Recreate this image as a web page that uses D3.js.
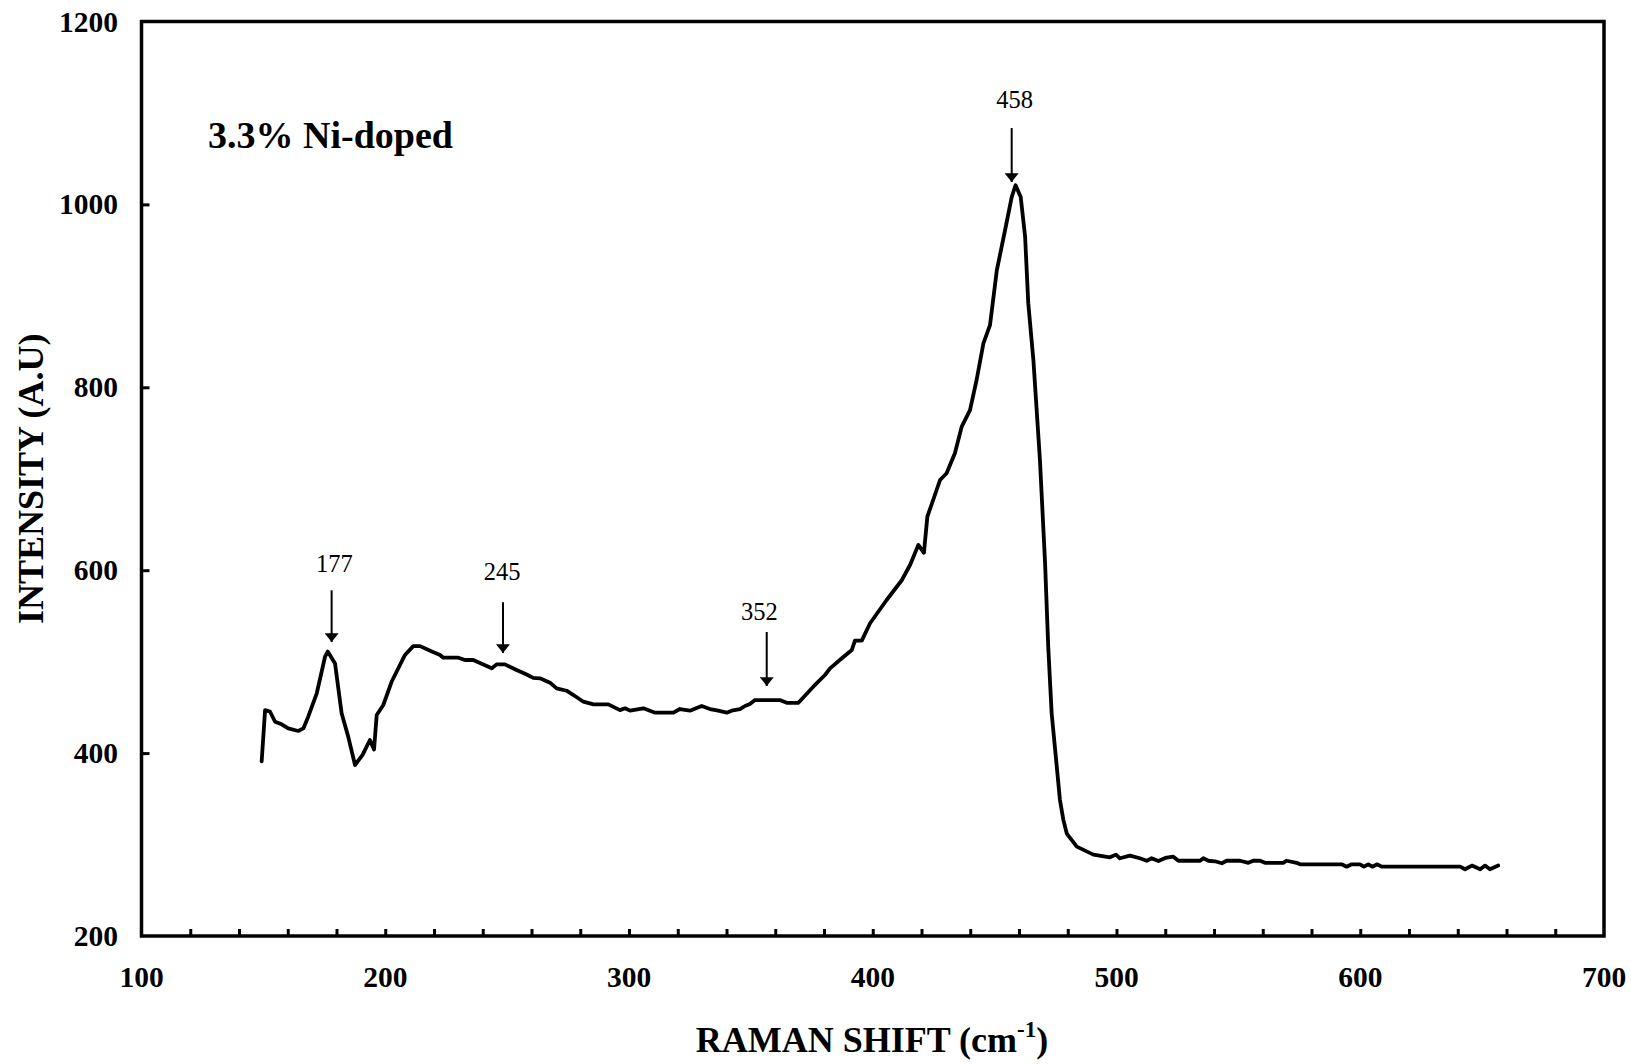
<!DOCTYPE html>
<html>
<head>
<meta charset="utf-8">
<script src="https://cdn.jsdelivr.net/npm/d3@7/dist/d3.min.js"></script>
<style>
  html, body { margin: 0; padding: 0; background: #fff; }
  svg { display: block; }
  text { font-family: "Liberation Serif", "Times New Roman", serif; fill: #000; }
</style>
</head>
<body>
<svg id="chart" width="1631" height="1064"></svg>
<script>
// ---- data ----
const ramanShift = [
  149.3,150.7,152.7,154.8,157.5,160.2,164.3,166.4,168.4,171.9,175.3,176.4,179.4,182.1,184.8,187.6,
  190.7,193.7,195.4,196.5,199.2,202.6,208.1,211.5,214.3,219.1,222.5,223.8,230,232.7,236.1,243.7,
  245.7,249.1,253.9,258,260.7,263.5,267.6,270.3,274.4,277.2,281.3,285.4,291.5,296.3,298.4,300.4,
  305.9,310.7,318.2,320.9,325,329.8,333.2,336.6,340.1,342.1,345.5,347.6,349.6,351.7,361.9,364.7,
  369.5,375.6,380.4,382.5,386.6,391.4,392.7,395.5,398.9,405.7,411.9,415.3,418.7,421,422.4,426.2,
  427.6,430.3,433.7,436.5,439.9,442.6,445.4,448.1,450.9,454.3,457,458.6,460.7,462.5,463.8,465.9,
  468.6,470.7,472,473.4,476.8,478.2,479.6,483.7,490.5,497.3,499.8,501.4,505.5,509.6,512.4,514.4,
  517.2,520,523.3,525.4,534.3,535.6,537.7,540.4,543.2,545.2,550.7,554.1,556.1,558.9,560.9,568.4,
  569.8,573.9,575.3,592.4,594.4,596.5,599.9,601.5,603.3,604.9,607,608.8,632.7,641,643,645.8,
  649.2,651.2,653.2,656.6
];
const intensity = [
  391,447,445.5,434.3,431.5,427,424.2,427,439.8,465.4,505.4,511,498,443.5,418,387,
  398,414.3,404,441.7,452.6,478,507.3,517,517,511,507.3,504.3,504.3,501.8,501.8,492.7,
  497,497,490.9,486,482.3,481.8,477,470.8,468.2,463.5,456.2,453.3,453.3,447,449,446.4,
  449,444.2,444.2,448.2,446.4,451.5,448.2,446.4,444.2,446.4,448,451.5,453.7,458,458,455,
  455,472.6,485.4,492.7,502,512.7,523,523,542,567.4,589,605.7,627.6,619,658.5,687.7,
  698.6,706,727.8,757,775,808,848,868,928,972,1008,1021,1008,965,892,830,
  720,607.5,516,443.5,348.7,327,312,297.7,289,286,289,285,287.8,285,282.3,285,
  282,285.3,286.7,282.3,282.3,285,282.3,281.7,279.5,282.3,282.3,280,282.3,282.3,280,280,
  282.3,280,278.4,278.4,275.8,278.4,278.4,275.8,278.4,275.8,278.4,275.8,275.8,275.8,273,277,
  273,277,273,277
];
const xTicks = [100, 200, 300, 400, 500, 600, 700];
const xMinorTicks = d3.range(120, 700, 20);
const yTicks = [200, 400, 600, 800, 1000, 1200];
const peakLabels = ["177", "245", "352", "458"];
const peakArrowX = [178, 248.3, 356.5, 457];
const peakArrowTop = [578, 565, 532.4, 1083.5];     // intensity at arrow tail
const peakArrowTip = [521.5, 509.5, 473.4, 1024.5]; // intensity at arrow head
const peakLabelX = [179.1, 247.9, 353.5, 458.2];
const peakLabelY = [598, 589.3, 545.5, 1105.4];     // intensity at label baseline
const sampleLabel = "3.3% Ni-doped";
const xTitle = "RAMAN SHIFT (cm";
const yTitle = "INTENSITY (A.U)";

// ---- layout ----
const svg = d3.select("#chart");
const L = 141.5, R = 1604, T = 21.5, B = 936;
const x = d3.scaleLinear().domain([100, 700]).range([L, R]);
const y = d3.scaleLinear().domain([200, 1200]).range([B, T]);

// curve
svg.append("path")
  .datum(ramanShift.map((v, i) => [v, intensity[i]]))
  .attr("fill", "none")
  .attr("stroke", "#000")
  .attr("stroke-width", 3.8)
  .attr("stroke-linejoin", "round")
  .attr("stroke-linecap", "round")
  .attr("d", d3.line().x(d => x(d[0])).y(d => y(d[1])));

// frame
svg.append("rect")
  .attr("x", L).attr("y", T).attr("width", R - L).attr("height", B - T)
  .attr("fill", "none").attr("stroke", "#000").attr("stroke-width", 3.5);

// x ticks (inward)
const xAxis = d3.axisBottom(x).tickValues(xMinorTicks).tickSize(-7).tickFormat("");
const gx = svg.append("g").attr("transform", `translate(0,${B})`).call(xAxis);
gx.select(".domain").remove();
gx.selectAll(".tick line").attr("stroke", "#000").attr("stroke-width", 3);

// y ticks (inward)
const yAxis = d3.axisLeft(y).tickValues(yTicks.slice(1, -1)).tickSize(-8).tickFormat("");
const gy = svg.append("g").attr("transform", `translate(${L},0)`).call(yAxis);
gy.select(".domain").remove();
gy.selectAll(".tick line").attr("stroke", "#000").attr("stroke-width", 3);

// tick labels
svg.append("g").selectAll("text").data(xTicks).join("text")
  .attr("x", d => x(d)).attr("y", 987)
  .attr("text-anchor", "middle").attr("font-weight", "bold").attr("font-size", 29.5)
  .text(d => d);
svg.append("g").selectAll("text").data(yTicks).join("text")
  .attr("x", 118).attr("y", d => y(d) + 10)
  .attr("text-anchor", "end").attr("font-weight", "bold").attr("font-size", 29.5)
  .text(d => d);

// axis titles
const xt = svg.append("text")
  .attr("x", 872).attr("y", 1052)
  .attr("text-anchor", "middle").attr("font-weight", "bold").attr("font-size", 36);
xt.append("tspan").text(xTitle);
xt.append("tspan").attr("dy", -15).attr("font-size", 23).text("-1");
xt.append("tspan").attr("dy", 15).text(")");

svg.append("text")
  .attr("transform", `translate(43,${(T + B) / 2}) rotate(-90)`)
  .attr("text-anchor", "middle").attr("font-weight", "bold").attr("font-size", 36)
  .text(yTitle);

// sample label
svg.append("text")
  .attr("x", 208).attr("y", 148)
  .attr("font-weight", "bold").attr("font-size", 38)
  .text(sampleLabel);

// peak annotations
const defs = svg.append("defs");
defs.append("marker")
  .attr("id", "ah").attr("viewBox", "0 0 10 16").attr("refX", 10).attr("refY", 8)
  .attr("markerWidth", 22).attr("markerHeight", 14).attr("markerUnits", "userSpaceOnUse")
  .attr("orient", "auto")
  .append("path").attr("d", "M0,0 L10,8 L0,16 Z").attr("fill", "#000");

peakLabels.forEach((lab, i) => {
  const ax = x(peakArrowX[i]);
  svg.append("line")
    .attr("x1", ax).attr("x2", ax)
    .attr("y1", y(peakArrowTop[i])).attr("y2", y(peakArrowTip[i]))
    .attr("stroke", "#000").attr("stroke-width", 2)
    .attr("marker-end", "url(#ah)");
  svg.append("text")
    .attr("x", x(peakLabelX[i])).attr("y", y(peakLabelY[i]))
    .attr("text-anchor", "middle").attr("font-size", 24.5)
    .text(lab);
});
</script>
</body>
</html>
